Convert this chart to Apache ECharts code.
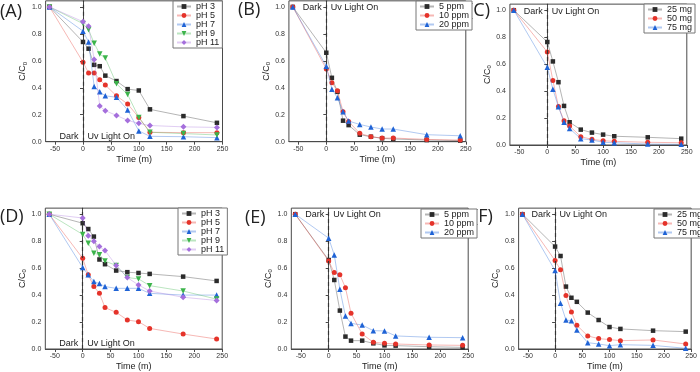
<!DOCTYPE html>
<html>
<head>
<meta charset="utf-8">
<script src="https://cdn.jsdelivr.net/npm/echarts@6/dist/echarts.min.js"></script>
<style>
  html, body { margin: 0; padding: 0; background: #fff; }
  #main { width: 700px; height: 372px; }
</style>
</head>
<body>
<div id="main"></div>
<script>
var times = [-60, 0, 10, 20, 30, 40, 60, 80, 100, 120, 180, 240];
var xTicks = [-50, 0, 50, 100, 150, 200, 250];
var yTicks = [0, 0.2, 0.4, 0.6, 0.8, 1.0];

// (A) pH, first set
var aPH3 = [1.0, 0.74, 0.69, 0.57, 0.56, 0.49, 0.45, 0.39, 0.38, 0.24, 0.19, 0.14];
var aPH5 = [1.0, 0.59, 0.51, 0.51, 0.46, 0.42, 0.34, 0.28, 0.18, 0.07, 0.067, 0.067];
var aPH7 = [1.0, 0.82, 0.74, 0.41, 0.37, 0.34, 0.33, 0.235, 0.08, 0.04, 0.037, 0.03];
var aPH9 = [1.0, 0.876, 0.83, 0.73, 0.65, 0.62, 0.43, 0.35, 0.18, 0.07, 0.06, 0.05];
var aPH11 = [1.0, 0.89, 0.857, 0.61, 0.264, 0.23, 0.195, 0.158, 0.136, 0.12, 0.11, 0.106];
// (B) concentration
var b5 = [1.0, 0.66, 0.474, 0.37, 0.156, 0.123, 0.052, 0.037, 0.025, 0.02, 0.012, 0.008];
var b10 = [1.0, 0.54, 0.437, 0.378, 0.222, 0.15, 0.062, 0.037, 0.027, 0.027, 0.017, 0.012];
var b20 = [1.0, 0.56, 0.39, 0.326, 0.222, 0.153, 0.128, 0.109, 0.094, 0.094, 0.052, 0.044];
// (C) dose
var c25 = [1.0, 0.764, 0.62, 0.466, 0.29, 0.169, 0.114, 0.092, 0.077, 0.065, 0.057, 0.047];
var c50 = [1.0, 0.69, 0.479, 0.285, 0.179, 0.141, 0.062, 0.042, 0.032, 0.027, 0.02, 0.017];
var c75 = [1.0, 0.576, 0.414, 0.283, 0.169, 0.122, 0.047, 0.037, 0.02, 0.017, 0.007, 0.005];
// (D) pH, second set
var dPH3 = [1.0, 0.933, 0.89, 0.834, 0.664, 0.629, 0.582, 0.57, 0.564, 0.557, 0.537, 0.505];
var dPH5 = [1.0, 0.673, 0.55, 0.463, 0.413, 0.307, 0.272, 0.215, 0.203, 0.153, 0.111, 0.074];
var dPH7 = [1.0, 0.604, 0.55, 0.5, 0.485, 0.463, 0.45, 0.45, 0.45, 0.413, 0.4, 0.4];
var dPH9 = [1.0, 0.85, 0.785, 0.71, 0.7, 0.652, 0.62, 0.53, 0.52, 0.47, 0.43, 0.37];
var dPH11 = [1.0, 0.972, 0.84, 0.8, 0.76, 0.73, 0.62, 0.53, 0.475, 0.43, 0.384, 0.36];
// (E) concentration
var e5 = [1.0, 0.66, 0.512, 0.285, 0.092, 0.062, 0.062, 0.042, 0.027, 0.025, 0.017, 0.012];
var e10 = [1.0, 0.653, 0.567, 0.55, 0.455, 0.265, 0.111, 0.05, 0.042, 0.037, 0.03, 0.027];
var e20 = [1.0, 0.822, 0.698, 0.443, 0.245, 0.19, 0.178, 0.136, 0.134, 0.097, 0.087, 0.084];
// (F) dose
var f25 = [1.0, 0.76, 0.69, 0.463, 0.38, 0.35, 0.27, 0.215, 0.163, 0.149, 0.136, 0.129];
var f50 = [1.0, 0.656, 0.587, 0.396, 0.275, 0.176, 0.097, 0.077, 0.07, 0.062, 0.067, 0.037];
var f75 = [1.0, 0.582, 0.34, 0.215, 0.21, 0.141, 0.047, 0.037, 0.025, 0.032, 0.027, 0.005];

var phNames = ['pH 3', 'pH 5', 'pH 7', 'pH 9', 'pH 11'];
var ppmNames = ['5 ppm', '10 ppm', '20 ppm'];
var mgNames = ['25 mg', '50 mg', '75 mg'];

var looks = [
    { color: '#2b2b2b', symbol: 'rect', size: 4.5, rot: 0 },
    { color: '#e5332a', symbol: 'circle', size: 5, rot: 0 },
    { color: '#1f63d6', symbol: 'triangle', size: 5.5, rot: 0 },
    { color: '#3cb44b', symbol: 'triangle', size: 5.5, rot: 180 },
    { color: '#a56fdc', symbol: 'diamond', size: 6, rot: 0 }
];

var sx = 0.558, sy = 134.8, xMin = -67, yMax = 1.045;
var panels = [
    { tag: '(A)', names: phNames, sets: [aPH3, aPH5, aPH7, aPH9, aPH11], x0: 83, y0: 141.7, textY: 0.037, leg: [173, 1], lab: [0, 3], nameGap: 12 },
    { tag: '(B)', names: ppmNames, sets: [b5, b10, b20], x0: 326.3, y0: 141.7, textY: 0.995, leg: [416, 1], lab: [238, 1], nameGap: 11 },
    { tag: '(C)', names: mgNames, sets: [c25, c50, c75], x0: 547.3, y0: 145, textY: 0.993, leg: [644, 4], lab: [468, 2], nameGap: 8 },
    { tag: '(D)', names: phNames, sets: [dPH3, dPH5, dPH7, dPH9, dPH11], x0: 82.7, y0: 349, textY: 0.037, leg: [178, 208], lab: [0, 208], nameGap: 12 },
    { tag: '(E)', names: ppmNames, sets: [e5, e10, e20], x0: 328.7, y0: 349, textY: 0.995, leg: [421, 209], lab: [245, 209], nameGap: 12 },
    { tag: '(F)', names: mgNames, sets: [f25, f50, f75], x0: 556, y0: 349, textY: 0.995, leg: [654, 209], lab: [473, 208], nameGap: 12 }
];

var font = 'Liberation Sans, Arial, sans-serif';
var grids = [], xAxes = [], yAxes = [], series = [], legends = [], graphics = [];

panels.forEach(function (p, i) {
    grids.push({
        left: p.x0 + xMin * sx,
        top: p.y0 - yMax * sy,
        width: (250 - xMin) * sx,
        height: yMax * sy,
        show: true,
        borderColor: '#4a4a4a',
        borderWidth: 1
    });
    xAxes.push({
        type: 'value', gridIndex: i, min: xMin, max: 250,
        name: 'Time (m)', nameLocation: 'middle', nameGap: 13,
        nameTextStyle: { fontSize: 9, color: '#222', fontFamily: font },
        axisLine: { show: true, lineStyle: { color: '#4a4a4a' } },
        axisTick: { show: true, length: 3, customValues: xTicks, lineStyle: { color: '#4a4a4a' } },
        axisLabel: { customValues: xTicks, fontSize: 7, color: '#333', margin: 4, fontFamily: font },
        splitLine: { show: false }
    });
    yAxes.push({
        type: 'value', gridIndex: i, min: 0, max: yMax,
        name: '{a|C/C}{b|0}', nameLocation: 'middle', nameGap: p.nameGap, nameRotate: 90,
        nameTextStyle: {
            color: '#222', fontFamily: font,
            rich: { a: { fontSize: 9, color: '#222', fontFamily: font }, b: { fontSize: 6, color: '#222', fontFamily: font, padding: [4, 0, 0, 0] } }
        },
        axisLine: { show: true, lineStyle: { color: '#4a4a4a' } },
        axisTick: { show: true, length: 3, customValues: yTicks, lineStyle: { color: '#4a4a4a' } },
        axisLabel: {
            customValues: yTicks, fontSize: 7, color: '#333', margin: 4, fontFamily: font,
            formatter: function (v) { return v.toFixed(1); }
        },
        splitLine: { show: false }
    });
    p.sets.forEach(function (vals, k) {
        var lk = looks[k];
        var s = {
            type: 'line', name: p.names[k], xAxisIndex: i, yAxisIndex: i,
            data: times.map(function (t, j) { return [t, vals[j]]; }),
            symbol: lk.symbol, symbolSize: lk.size, symbolRotate: lk.rot,
            showAllSymbol: true,
            itemStyle: { color: lk.color },
            lineStyle: { color: lk.color, width: 1, opacity: 0.35 },
            z: 3 + k,
            animation: false
        };
        if (k === 0) {
            s.markLine = {
                silent: true, symbol: 'none', animation: false,
                lineStyle: { type: [4, 3], color: '#333', width: 1.2 },
                label: { show: false },
                data: [{ xAxis: 0 }]
            };
            s.markPoint = {
                silent: true, symbol: 'rect', symbolSize: 1, animation: false,
                itemStyle: { color: 'transparent' },
                data: [
                    { coord: [0, p.textY], label: { show: true, position: 'left', distance: 4, formatter: 'Dark', fontSize: 9, color: '#222', fontFamily: font } },
                    { coord: [0, p.textY], label: { show: true, position: 'right', distance: 4, formatter: 'Uv Light On', fontSize: 9, color: '#222', fontFamily: font } }
                ]
            };
        }
        series.push(s);
    });
    legends.push({
        data: p.names, orient: 'vertical', left: p.leg[0], top: p.leg[1],
        padding: [1, 3, 1, 3], itemGap: 0, itemWidth: 14, itemHeight: 6,
        borderColor: '#777', borderWidth: 1, backgroundColor: '#fff',
        textStyle: { fontSize: 9, lineHeight: 9, color: '#222', fontFamily: font },
        selectedMode: false
    });
    graphics.push({
        type: 'text', left: p.lab[0], top: p.lab[1],
        style: { text: p.tag, fontSize: 18, fill: '#222', fontFamily: 'Open Sans, Noto Sans, sans-serif' }
    });
});

var chart = echarts.init(document.getElementById('main'));
chart.setOption({
    animation: false,
    grid: grids,
    xAxis: xAxes,
    yAxis: yAxes,
    legend: legends,
    graphic: graphics,
    series: series
});
</script>
</body>
</html>
